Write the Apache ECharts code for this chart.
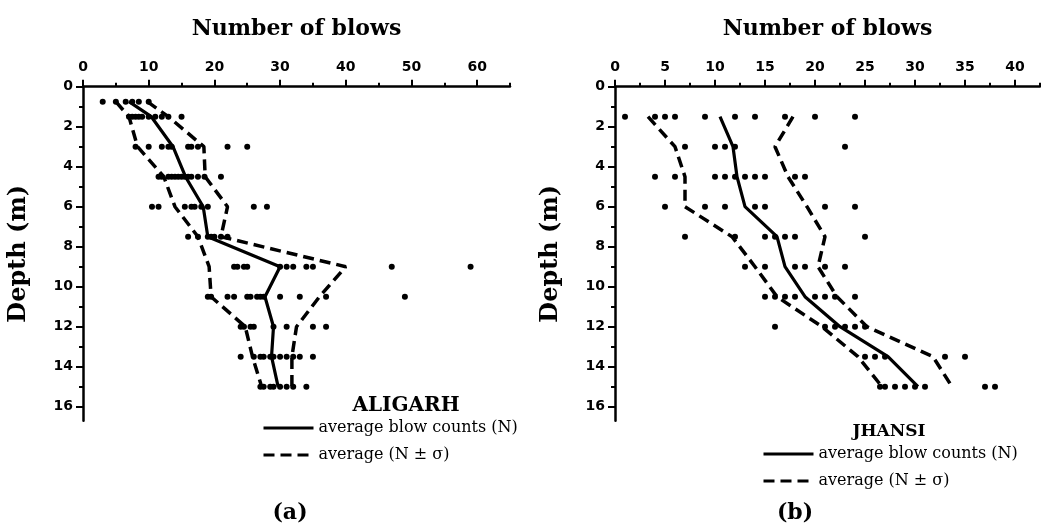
<!DOCTYPE html>
<html><head><meta charset="utf-8">
<script src="https://cdn.jsdelivr.net/npm/echarts@6/dist/echarts.min.js"></script>
<style>html,body{margin:0;padding:0;background:#fff}#c{width:1041px;height:531px}</style>
</head><body><div id="c"></div>
<script>
// ---------- DATA ----------
const aligarhDepths = [0.75, 1.5, 3, 4.5, 6, 7.5, 9, 10.5, 12, 13.5, 15];
const aligarhMean  = [7, 10.4, 13.7, 15.6, 18.3, 19, 30, 27.7, 29, 28.7, 29.7];
const aligarhLower = [5, 7, 8.3, 12.3, 14, 17.5, 19.2, 19.5, 24.7, 25.8, 27.2];
const aligarhUpper = [9.8, 13, 18.4, 18.6, 22, 21, 40, 36, 32.5, 31.8, 31.8];
const aligarhBlows = [
  [3, 5, 6.5, 7.5, 8.5, 10],
  [7, 7.5, 8, 8.5, 9, 10, 11, 12, 13, 15],
  [8, 10, 12, 13, 13.5, 16, 16.5, 17.5, 22, 25],
  [11.5, 12, 13, 13.5, 14, 14.5, 15, 15.5, 16, 16.5, 17.5, 18.5, 21],
  [10.5, 11.5, 15.5, 16.5, 17, 18, 19, 26, 28],
  [16, 17.5, 19, 19.5, 20, 21, 22],
  [23, 23.5, 24.5, 25, 30, 31, 32, 34, 35, 47, 59],
  [19, 19.5, 22, 23, 25, 25.5, 26.5, 27, 27.5, 30, 33, 37, 49],
  [24, 24.5, 25.5, 26, 29, 31, 35, 37],
  [24, 26, 27, 27.5, 28.5, 29, 30, 31, 32, 33, 35],
  [27, 27.5, 28.5, 29, 30, 31, 32, 34]
];

const jhansiDepths = [1.5, 3, 4.5, 6, 7.5, 9, 10.5, 12, 13.5, 15];
const jhansiMean  = [10.5, 11.8, 12.2, 13, 16.2, 17, 19, 22.5, 27.3, 30.3];
const jhansiLower = [3.3, 6, 7, 7, 11.7, 14, 16.2, 20.7, 24.3, 26.7];
const jhansiUpper = [17.8, 16, 17.3, 19.2, 21, 20.3, 22.2, 25.2, 31.8, 33.7];
const jhansiBlows = [
  [1, 4, 5, 6, 9, 12, 14, 17, 20, 24],
  [7, 10, 11, 12, 23],
  [4, 6, 10, 11, 12, 13, 14, 15, 18, 19],
  [5, 9, 11, 14, 15, 21, 24],
  [7, 12, 15, 16, 17, 18, 25],
  [13, 15, 18, 19, 21, 23],
  [15, 16, 17, 18, 20, 21, 22, 24],
  [16, 21, 22, 23, 24, 25],
  [25, 26, 27, 33, 35],
  [26.5, 27, 28, 29, 30, 31, 37, 38]
];

const xMajorA = [0, 10, 20, 30, 40, 50, 60];
const xMinorA = [5, 15, 25, 35, 45, 55, 65];
const xMajorJ = [0, 5, 10, 15, 20, 25, 30, 35, 40];
const xMinorJ = [2.5, 7.5, 12.5, 17.5, 22.5, 27.5, 32.5, 37.5, 42.5];
const yMajor = [0, 2, 4, 6, 8, 10, 12, 14, 16];
const yMinor = [1, 3, 5, 7, 9, 11, 13, 15];

const xTitle = 'Number of blows';
const yTitle = 'Depth (m)';
const meanName = 'average blow counts (N)';
const sigmaName = 'average (N \u00B1 \u03C3)';

// ---------- HELPERS ----------
function pairs(xs, ys) { return xs.map((x, i) => [x, ys[i]]); }
function scatterPts(rows, depths) {
  const out = [];
  rows.forEach((r, i) => r.forEach(v => out.push([v, depths[i]])));
  return out;
}
const axisFont = { fontFamily: 'DejaVu Sans', fontWeight: 'bold', fontSize: 14, color: '#000' };
const nameFontX = { fontFamily: 'DejaVu Serif', fontWeight: 'bold', fontSize: 22, color: '#000' };
const nameFontY = { fontFamily: 'DejaVu Serif', fontWeight: 'bold', fontSize: 24, color: '#000' };

function majorX(grid, max, ticks) {
  return {
    gridIndex: grid, type: 'value', position: 'top', min: 0, max: max,
    name: xTitle, nameLocation: 'middle', nameGap: 46, nameTextStyle: nameFontX,
    axisLine: { show: true, onZero: false, lineStyle: { color: '#000', width: 2.5 } },
    axisTick: { show: true, customValues: ticks, length: 7, lineStyle: { color: '#000', width: 2 } },
    axisLabel: Object.assign({ customValues: ticks, margin: 12 }, axisFont),
    splitLine: { show: false }
  };
}
function minorX(grid, max, ticks) {
  return {
    gridIndex: grid, type: 'value', position: 'top', min: 0, max: max,
    axisLine: { show: false, onZero: false },
    axisTick: { show: true, customValues: ticks, length: 4, lineStyle: { color: '#000', width: 2 } },
    axisLabel: { show: false }, splitLine: { show: false }
  };
}
function majorY(grid) {
  return {
    gridIndex: grid, type: 'value', position: 'left', inverse: true, min: 0, max: 16.7,
    name: yTitle, nameLocation: 'middle', nameGap: 52, nameRotate: 90, nameTextStyle: nameFontY,
    axisLine: { show: true, onZero: false, lineStyle: { color: '#000', width: 2.5 } },
    axisTick: { show: true, customValues: yMajor, length: 7, lineStyle: { color: '#000', width: 2 } },
    axisLabel: Object.assign({ customValues: yMajor, margin: 10 }, axisFont),
    splitLine: { show: false }
  };
}
function minorY(grid) {
  return {
    gridIndex: grid, type: 'value', position: 'left', inverse: true, min: 0, max: 16.7,
    axisLine: { show: false, onZero: false },
    axisTick: { show: true, customValues: yMinor, length: 4, lineStyle: { color: '#000', width: 2 } },
    axisLabel: { show: false }, splitLine: { show: false }
  };
}
function seriesFor(axisIdx, blows, depths, mean, lower, upper) {
  return [
    { type: 'scatter', name: 'data', xAxisIndex: axisIdx, yAxisIndex: axisIdx,
      data: scatterPts(blows, depths), symbol: 'circle', symbolSize: 6,
      itemStyle: { color: '#000', opacity: 1 }, silent: true, z: 3 },
    { type: 'line', name: meanName, xAxisIndex: axisIdx, yAxisIndex: axisIdx,
      data: pairs(mean, depths), symbol: 'none', lineStyle: { color: '#000', width: 3.2 }, z: 4 },
    { type: 'line', name: sigmaName, xAxisIndex: axisIdx, yAxisIndex: axisIdx,
      data: pairs(lower, depths), symbol: 'none', lineStyle: { color: '#000', width: 3.5, type: [11, 6] }, z: 4 },
    { type: 'line', name: sigmaName, xAxisIndex: axisIdx, yAxisIndex: axisIdx,
      data: pairs(upper, depths), symbol: 'none', lineStyle: { color: '#000', width: 3.5, type: [11, 6] }, z: 4 }
  ];
}
function legendAt(left, top) {
  return {
    orient: 'vertical', left: left, top: top, padding: 0,
    itemWidth: 50, itemHeight: 14, itemGap: 11,
    data: [meanName, sigmaName],
    itemStyle: { color: 'rgba(0,0,0,0)', borderWidth: 0 },
    lineStyle: { width: 3 },
    textStyle: { fontFamily: 'DejaVu Serif', fontSize: 16, color: '#000' },
    selectedMode: false
  };
}
const labelStyle = (size) => ({ fontFamily: 'DejaVu Serif', fontWeight: 'bold', fontSize: size, color: '#000' });

const chart = echarts.init(document.getElementById('c'), null, { renderer: 'canvas' });
chart.setOption({
  backgroundColor: '#fff',
  animation: false,
  title: [
    { text: 'ALIGARH', left: 406, top: 396, textAlign: 'center', padding: 0, textStyle: labelStyle(20) },
    { text: 'JHANSI', left: 889, top: 423, textAlign: 'center', padding: 0, textStyle: labelStyle(17) },
    { text: '(a)', left: 290, top: 502, textAlign: 'center', padding: 0, textStyle: labelStyle(22) },
    { text: '(b)', left: 795, top: 502, textAlign: 'center', padding: 0, textStyle: labelStyle(22) }
  ],
  legend: [legendAt(262, 420), legendAt(762, 446)],
  grid: [
    { left: 83, top: 86.7, width: 427, height: 334, outerBoundsMode: 'none', containLabel: false },
    { left: 615, top: 86.7, width: 425, height: 334, outerBoundsMode: 'none', containLabel: false }
  ],
  xAxis: [majorX(0, 65, xMajorA), minorX(0, 65, xMinorA), majorX(1, 42.5, xMajorJ), minorX(1, 42.5, xMinorJ)],
  yAxis: [majorY(0), minorY(0), majorY(1), minorY(1)],
  series: [].concat(
    seriesFor(0, aligarhBlows, aligarhDepths, aligarhMean, aligarhLower, aligarhUpper),
    seriesFor(2, jhansiBlows, jhansiDepths, jhansiMean, jhansiLower, jhansiUpper)
  )
});
</script>
</body></html>
